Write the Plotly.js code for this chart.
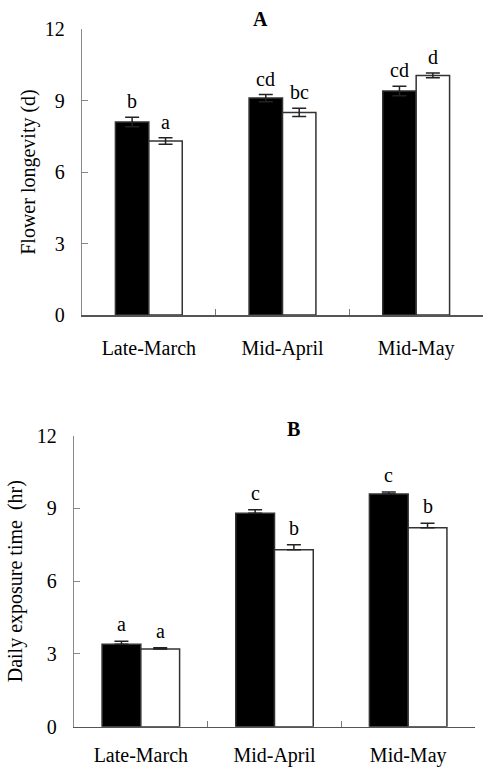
<!DOCTYPE html>
<html>
<head>
<meta charset="utf-8">
<script src="https://cdn.plot.ly/plotly-3.0.1.min.js"></script>
<style>html,body{margin:0;padding:0;background:#fff;}#chart{width:483px;height:769px;}</style>
</head>
<body>
<div id="chart"></div>
<script>
// ---- data ----
var categories = ["Late-March", "Mid-April", "Mid-May"];

// Panel A: Flower longevity (d)
var longevityBlack = [8.1, 9.1, 9.4];
var longevityBlackErr = [0.2, 0.15, 0.2];
var longevityWhite = [7.3, 8.5, 10.05];
var longevityWhiteErr = [0.14, 0.17, 0.1];
var longevityBlackLetters = ["b", "cd", "cd"];
var longevityWhiteLetters = ["a", "bc", "d"];

// Panel B: Daily exposure time (hr)
var exposureBlack = [3.4, 8.8, 9.6];
var exposureBlackErr = [0.12, 0.15, 0.08];
var exposureWhite = [3.2, 7.3, 8.2];
var exposureWhiteErr = [0.06, 0.2, 0.19];
var exposureBlackLetters = ["a", "c", "c"];
var exposureWhiteLetters = ["a", "b", "b"];

var yTicks = [0, 3, 6, 9, 12];

// ---- style ----
var FONT = "Liberation Serif, Times New Roman, serif";
var edge = "#333333";
var errColor = "#222222";

function barTrace(x, y, err, fill, xa, ya, symmetric, w, off) {
  var e = {type: "data", array: err, visible: true, color: errColor, thickness: 1.5, width: 7};
  if (symmetric) { e.symmetric = true; } else { e.symmetric = false; e.arrayminus = err.map(function(){return 0;}); }
  return {
    type: "bar", x: x, y: y, xaxis: xa, yaxis: ya, width: w, offset: off,
    marker: {color: fill, line: {color: edge, width: 1.5}},
    error_y: e, hoverinfo: "x+y", showlegend: false
  };
}

var wA = 0.25, wB = 0.29;
var data = [
  barTrace(categories, longevityBlack, longevityBlackErr, "#000000", "x", "y", true, wA, -wA),
  barTrace(categories, longevityWhite, longevityWhiteErr, "#ffffff", "x", "y", true, wA, 0),
  barTrace(categories, exposureBlack, exposureBlackErr, "#000000", "x2", "y2", false, wB, -wB),
  barTrace(categories, exposureWhite, exposureWhiteErr, "#ffffff", "x2", "y2", false, wB, 0)
];

var annotations = [];
function addLetters(vals, errs, letters, offset, xref, yref, shift) {
  for (var i = 0; i < vals.length; i++) {
    annotations.push({
      x: i + offset, y: vals[i] + errs[i], xref: xref, yref: yref,
      text: letters[i], showarrow: false, yanchor: "bottom", xanchor: "center",
      yshift: shift, font: {family: FONT, size: 20, color: "#000"}
    });
  }
}
addLetters(longevityBlack, longevityBlackErr, longevityBlackLetters, -wA / 2, "x", "y", 3);
addLetters(longevityWhite, longevityWhiteErr, longevityWhiteLetters, wA / 2, "x", "y", 3);
addLetters(exposureBlack, exposureBlackErr, exposureBlackLetters, -wB / 2, "x2", "y2", 4);
addLetters(exposureWhite, exposureWhiteErr, exposureWhiteLetters, wB / 2, "x2", "y2", 4);

// panel titles
annotations.push({x: 260/483, y: 1 - 19/769, xref: "paper", yref: "paper", text: "<b>A</b>",
  showarrow: false, xanchor: "center", yanchor: "middle", font: {family: FONT, size: 20, color: "#000"}});
annotations.push({x: 293/483, y: 1 - 429/769, xref: "paper", yref: "paper", text: "<b>B</b>",
  showarrow: false, xanchor: "center", yanchor: "middle", font: {family: FONT, size: 20, color: "#000"}});

function xAxis(domain, anchor, standoff) {
  return {
    domain: domain, anchor: anchor, type: "category", range: [-0.5, 2.5],
    showline: true, linecolor: "#555555", linewidth: 1.5,
    ticks: "inside", tickson: "boundaries", ticklen: 6, tickcolor: "#777777", tickwidth: 1,
    ticklabelstandoff: standoff,
    tickfont: {family: FONT, size: 20, color: "#000"}, showgrid: false, zeroline: false, fixedrange: true
  };
}
function yAxis(domain, anchor, title, standoff) {
  return {
    domain: domain, anchor: anchor, range: [0, 12], tickvals: yTicks, ticktext: yTicks.map(String),
    showline: true, linecolor: "#888888", linewidth: 1.2,
    ticks: "inside", ticklen: 6, tickcolor: "#888888", tickwidth: 1,
    ticklabelstandoff: 12,
    tickfont: {family: FONT, size: 20, color: "#000"}, showgrid: false, zeroline: false, fixedrange: true,
    title: {text: title, font: {family: FONT, size: 20, color: "#000"}, standoff: standoff}
  };
}

var layout = {
  width: 483, height: 769,
  margin: {l: 0, r: 0, t: 0, b: 0},
  paper_bgcolor: "#ffffff", plot_bgcolor: "#ffffff",
  barmode: "overlay",
  showlegend: false,
  xaxis: xAxis([82/483, 1.0], "y", 14),
  yaxis: yAxis([1 - 315/769, 1 - 29/769], "x", "Flower longevity (d)", 3),
  xaxis2: xAxis([74/483, 475/483], "y2", 10),
  yaxis2: yAxis([1 - 726.7/769, 1 - 435.7/769], "x2", "Daily exposure time  (hr)", 8),
  annotations: annotations
};

Plotly.newPlot("chart", data, layout, {displayModeBar: false, staticPlot: true});
</script>
</body>
</html>
